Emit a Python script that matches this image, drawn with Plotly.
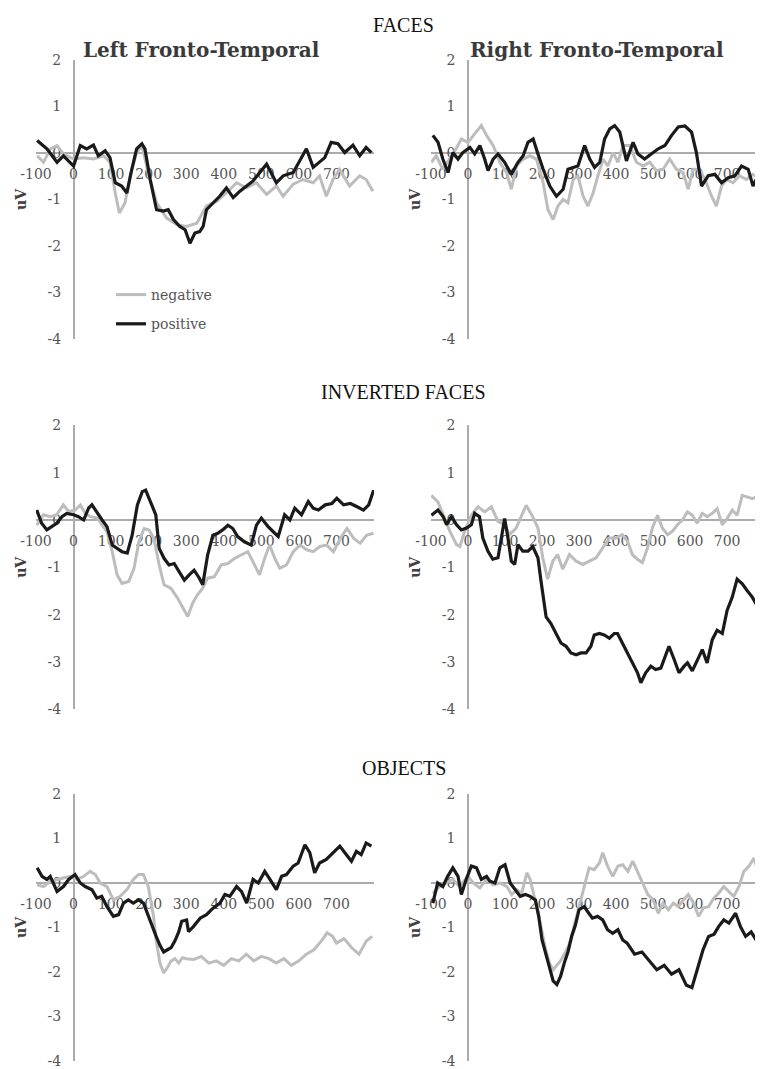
import plotly.graph_objects as go

# ---------------- DATA (ms, uV) ----------------
TICK_X = [-100, 0, 100, 200, 300, 400, 500, 600, 700]
TICK_X_TEXT = ["-100", "0", "100", "200", "300", "400", "500", "600", "700"]
TICK_Y = [2, 1, 0, -1, -2, -3, -4]
TICK_Y_TEXT = ["2", "1", "0", "-1", "-2", "-3", "-4"]
SECTIONS = ["FACES", "INVERTED FACES", "OBJECTS"]
REGIONS = ["Left Fronto-Temporal", "Right Fronto-Temporal"]
SERIES = ["negative", "positive"]

# FACES, left
fl_neg_t = [-97,-80,-62,-44,-27,0,27,53,80,97,111,122,137,151,168,182,199,221,248,275,301,328,354,381,407,434,460,487,514,540,558,585,611,638,655,673,691,708,735,762,779,797]
fl_neg_v = [-0.06,-0.2,0.09,0.16,-0.02,-0.13,-0.1,-0.13,-0.06,-0.2,-0.86,-1.29,-1.07,-0.49,0.01,0.16,-0.42,-1.07,-1.4,-1.54,-1.58,-1.51,-1.14,-1.04,-0.86,-0.64,-0.75,-0.64,-0.89,-0.71,-0.93,-0.67,-0.57,-0.64,-0.49,-0.93,-0.57,-0.35,-0.71,-0.49,-0.57,-0.82]
fl_pos_t = [-97,-71,-44,-27,0,18,35,53,66,84,97,111,128,142,155,168,182,190,204,221,239,252,266,283,297,310,323,336,345,354,372,389,407,425,443,460,478,496,514,540,558,585,602,620,638,655,669,686,704,722,744,762,779,793]
fl_pos_v = [0.27,0.09,-0.2,-0.06,-0.28,0.16,0.09,0.17,-0.06,0.05,-0.1,-0.64,-0.71,-0.86,-0.35,0.09,0.2,0.09,-0.57,-1.22,-1.25,-1.22,-1.43,-1.58,-1.65,-1.94,-1.72,-1.69,-1.58,-1.22,-1.07,-0.93,-0.75,-0.96,-0.82,-0.71,-0.6,-0.42,-0.24,-0.64,-0.49,-0.42,-0.17,0.09,-0.31,-0.2,-0.1,0.23,0.2,0.01,0.17,-0.06,0.12,0.01]

# FACES, right
fr_neg_t = [-99,-86,-68,-50,-32,-18,0,18,36,50,68,86,104,117,131,149,167,185,203,216,230,243,257,270,284,297,311,324,338,351,365,378,392,405,419,437,455,473,491,509,527,545,563,581,595,608,626,644,658,671,685,698,716,734,752,770,788]
fr_neg_v = [-0.2,-0.06,-0.35,-0.13,0.09,0.3,0.23,0.41,0.59,0.38,0.16,-0.2,-0.42,-0.78,-0.28,-0.13,-0.06,-0.13,-0.64,-1.22,-1.43,-1.14,-1.0,-1.07,-0.57,-0.49,-0.93,-1.14,-0.86,-0.49,-0.13,-0.28,0.01,-0.2,0.16,0.16,-0.2,-0.28,-0.2,-0.38,-0.35,-0.13,-0.35,-0.42,-0.78,-0.35,-0.35,-0.64,-0.93,-1.14,-0.71,-0.57,-0.64,-0.49,-0.57,-0.46,-0.57]
fr_pos_t = [-95,-81,-68,-54,-41,-27,-14,5,18,32,45,54,68,81,99,117,135,149,162,176,189,203,221,239,257,270,284,297,315,329,342,356,369,383,396,410,428,446,459,477,495,514,532,550,568,586,604,617,631,649,667,685,703,721,739,757,770,788]
fr_pos_v = [0.38,0.23,-0.13,-0.42,0.01,-0.13,0.01,0.12,-0.02,0.16,-0.13,-0.38,-0.13,-0.02,-0.2,-0.46,-0.2,-0.06,0.23,0.3,-0.02,-0.35,-0.71,-0.93,-0.78,-0.35,-0.31,-0.28,0.16,-0.13,-0.31,-0.2,0.3,0.52,0.59,0.45,-0.17,0.23,-0.02,-0.13,-0.02,0.09,0.16,0.38,0.56,0.58,0.45,0.01,-0.71,-0.49,-0.46,-0.64,-0.53,-0.49,-0.28,-0.35,-0.71,-0.42]

# INVERTED FACES, left
il_neg_t = [-98,-80,-62,-45,-27,-13,4,18,31,45,63,76,89,103,116,129,147,161,174,188,201,214,228,241,259,277,295,304,317,330,344,357,375,393,411,429,446,464,482,495,509,522,536,549,567,585,603,621,638,656,674,692,710,728,746,763,781,799]
il_neg_v = [-0.11,0.11,0.07,0.11,0.32,0.18,0.21,0.32,0.14,0.07,0.04,-0.11,-0.25,-0.67,-1.16,-1.34,-1.3,-1.02,-0.46,-0.18,-0.21,-0.39,-0.95,-1.37,-1.44,-1.65,-1.9,-2.04,-1.76,-1.58,-1.44,-1.23,-1.2,-0.95,-0.92,-0.81,-0.74,-0.67,-0.95,-1.16,-0.81,-0.53,-0.81,-1.02,-0.95,-0.67,-0.53,-0.63,-0.67,-0.56,-0.53,-0.67,-0.39,-0.18,-0.39,-0.49,-0.32,-0.28]
il_pos_t = [-98,-85,-71,-58,-45,-31,-18,0,13,27,40,49,63,76,89,103,116,129,143,156,170,183,192,205,219,228,241,254,268,281,295,308,321,335,344,357,371,384,397,411,424,437,455,473,487,500,518,536,545,562,576,589,607,625,638,652,670,688,701,719,737,755,772,786,799]
il_pos_v = [0.21,-0.07,-0.21,-0.14,-0.07,0.07,0.14,0.11,0.07,0.0,0.25,0.32,0.14,0.0,-0.14,-0.53,-0.6,-0.67,-0.7,-0.32,0.32,0.6,0.63,0.39,0.11,-0.6,-0.81,-0.95,-0.92,-1.09,-1.27,-1.16,-1.06,-1.23,-1.37,-0.74,-0.32,-0.28,-0.21,-0.11,-0.18,-0.35,-0.46,-0.53,-0.11,0.04,-0.14,-0.28,-0.35,0.11,0.0,0.25,0.11,0.39,0.25,0.21,0.32,0.35,0.46,0.32,0.35,0.28,0.21,0.32,0.63]

# INVERTED FACES, right
ir_neg_t = [-99,-81,-63,-49,-31,-22,-9,9,27,45,63,81,99,112,130,144,157,175,189,202,215,229,242,256,274,292,310,328,346,364,382,400,417,431,444,458,471,485,498,512,525,539,552,566,579,593,606,619,633,646,660,673,687,700,714,727,741,754,768,781,794]
ir_neg_v = [0.52,0.38,0.03,-0.24,-0.52,-0.56,-0.24,0.1,0.28,0.17,0.28,-0.03,-0.1,-0.31,-0.17,0.1,0.31,0.07,-0.17,-0.8,-1.25,-0.87,-0.73,-1.04,-0.73,-0.87,-0.94,-0.87,-0.8,-0.59,-0.38,-0.38,-0.31,-0.45,-0.73,-0.83,-0.9,-0.59,-0.17,0.1,-0.17,-0.31,-0.24,-0.1,0.0,0.17,0.1,-0.07,0.14,0.07,0.14,0.24,-0.1,0.03,0.21,0.1,0.52,0.49,0.45,0.49,0.45]
ir_pos_t = [-99,-81,-67,-58,-45,-31,-18,-4,9,18,31,40,54,67,81,90,99,108,117,126,135,148,162,175,189,197,211,224,238,251,265,278,292,305,319,332,341,355,368,382,395,404,417,431,444,458,467,480,494,507,521,534,543,557,570,584,593,606,619,633,646,660,673,687,700,714,727,741,754,768,781,794]
ir_pos_v = [0.1,0.21,0.07,-0.1,0.07,-0.1,-0.21,-0.17,-0.1,0.14,0.07,-0.38,-0.66,-0.83,-0.8,-0.38,0.03,-0.38,-0.87,-0.94,-0.52,-0.66,-0.66,-0.56,-0.8,-1.28,-2.05,-2.19,-2.4,-2.6,-2.67,-2.81,-2.85,-2.81,-2.81,-2.67,-2.43,-2.4,-2.43,-2.5,-2.4,-2.4,-2.6,-2.81,-3.02,-3.23,-3.44,-3.23,-3.09,-3.16,-3.13,-2.88,-2.67,-2.95,-3.23,-3.09,-3.02,-3.19,-2.98,-2.74,-3.02,-2.53,-2.33,-2.4,-1.91,-1.63,-1.25,-1.35,-1.49,-1.63,-1.81,-1.81]

# OBJECTS, left
ol_neg_t = [-97,-80,-62,-44,-27,-9,9,27,44,58,71,89,106,124,142,159,173,186,199,213,220,230,240,250,260,270,280,290,300,320,340,360,380,400,420,440,460,480,500,520,540,560,580,600,620,640,660,675,690,700,720,740,760,780,795]
ol_neg_v = [-0.04,-0.08,0.04,0.08,0.11,0.15,0.08,0.15,0.26,0.19,0.0,-0.08,-0.38,-0.3,-0.15,0.08,0.19,0.19,-0.08,-0.75,-1.3,-1.8,-2.02,-1.9,-1.75,-1.7,-1.8,-1.68,-1.7,-1.72,-1.65,-1.8,-1.75,-1.85,-1.7,-1.75,-1.6,-1.75,-1.65,-1.7,-1.8,-1.7,-1.85,-1.75,-1.6,-1.5,-1.3,-1.12,-1.2,-1.35,-1.25,-1.45,-1.6,-1.3,-1.2]
ol_pos_t = [-97,-84,-71,-62,-44,-27,-13,4,18,31,49,62,75,89,106,120,133,146,159,173,186,199,213,220,230,240,250,260,270,280,288,301,306,319,337,354,372,390,403,416,434,447,461,478,492,509,523,540,554,567,585,598,616,629,642,655,673,691,709,726,740,753,766,779,793]
ol_pos_v = [0.34,0.15,0.08,0.15,-0.19,-0.08,0.08,0.19,0.0,-0.08,-0.15,-0.34,-0.3,-0.53,-0.75,-0.71,-0.45,-0.38,-0.45,-0.38,-0.45,-0.75,-1.05,-1.2,-1.4,-1.55,-1.5,-1.45,-1.3,-1.1,-0.86,-0.83,-1.09,-0.98,-0.79,-0.71,-0.56,-0.45,-0.26,-0.3,-0.08,-0.19,-0.45,0.08,0.0,0.26,0.08,-0.15,0.15,0.19,0.38,0.45,0.86,0.68,0.23,0.45,0.53,0.68,0.83,0.64,0.49,0.71,0.64,0.9,0.83]

# OBJECTS, right
or_neg_t = [-95,-77,-59,-41,-23,0,14,32,50,68,86,105,118,132,145,159,168,182,190,200,210,220,230,240,250,260,270,277,295,314,327,341,355,364,377,391,405,418,432,445,459,473,486,500,514,527,541,555,568,582,595,609,623,636,650,664,677,691,705,718,732,745,759,773,782]
or_neg_v = [-0.23,-0.08,0.0,0.08,-0.08,0.15,0.0,-0.11,0.08,-0.04,0.0,-0.08,-0.26,-0.15,-0.23,0.23,0.08,-0.38,-0.7,-1.1,-1.5,-1.8,-1.95,-1.85,-1.75,-1.6,-1.45,-1.28,-0.68,-0.08,0.34,0.3,0.45,0.68,0.38,0.15,0.38,0.41,0.26,0.49,0.23,0.0,-0.26,-0.38,-0.68,-0.45,-0.6,-0.45,-0.53,-0.38,-0.26,-0.45,-0.75,-0.56,-0.53,-0.34,-0.23,-0.08,-0.19,-0.3,-0.08,0.26,0.38,0.56,0.3]
or_pos_t = [-95,-82,-68,-55,-41,-27,-18,-5,9,23,36,50,59,73,86,100,114,127,141,155,168,182,191,200,210,220,230,240,250,260,270,280,290,300,314,323,336,350,364,377,391,405,418,430,450,470,490,510,530,550,570,590,605,620,635,650,665,677,691,705,723,736,750,765,780,795]
or_pos_v = [-0.45,0.0,-0.08,0.15,0.34,0.15,-0.26,0.08,0.38,0.34,0.08,0.15,0.04,0.0,0.34,0.41,0.0,-0.15,-0.3,-0.26,-0.3,-0.38,-0.75,-1.28,-1.6,-1.95,-2.2,-2.28,-2.1,-1.8,-1.55,-1.2,-0.95,-0.6,-0.53,-0.64,-0.79,-0.75,-0.83,-1.05,-1.13,-1.05,-1.28,-1.35,-1.6,-1.55,-1.75,-1.95,-1.85,-2.05,-1.95,-2.3,-2.35,-1.9,-1.5,-1.2,-1.15,-0.98,-0.83,-0.9,-0.68,-0.98,-1.2,-1.1,-1.3,-1.4]

PANELS = [
    (0, 0, fl_neg_t, fl_neg_v, fl_pos_t, fl_pos_v),
    (0, 1, fr_neg_t, fr_neg_v, fr_pos_t, fr_pos_v),
    (1, 0, il_neg_t, il_neg_v, il_pos_t, il_pos_v),
    (1, 1, ir_neg_t, ir_neg_v, ir_pos_t, ir_pos_v),
    (2, 0, ol_neg_t, ol_neg_v, ol_pos_t, ol_pos_v),
    (2, 1, or_neg_t, or_neg_v, or_pos_t, or_pos_v),
]

# ---------------- LAYOUT (pixels of the 763x1069 page) ----------------
PAGE_W, PAGE_H = 763, 1069
BODY = 8                      # default page margin around the plot div
W, H = PAGE_W - BODY, PAGE_H - BODY
ROWS = [(60, 339, 153), (425.4, 709.2, 520), (794, 1061, 883)]      # top(y=2), bottom(y=-4), zero
COLS = [(36, 374, 73.6, [-100, 800]), (431, 763, 468, [-100, 797])]  # left, right, x=0, range
SECTION_Y = [25, 392, 768]
TITLE_X = [201, 597]
TITLE_Y = 50

NEG_COLOR = "#BDBDBD"
POS_COLOR = "#1A1A1A"
AXIS_COLOR = "#ABABAB"
TICK_COLOR = "#555555"
SERIF = "DejaVu Serif"


def fx(p):
    return min(1.0, (p - BODY) / W)


def fy(p):
    return max(0.0, 1 - (p - BODY) / H)


fig = go.Figure()
layout = {}
for i, (r, c, nt, nv, pt, pv) in enumerate(PANELS, start=1):
    top, bot, zero = ROWS[r]
    left, right, x0, xr = COLS[c]
    xa, ya = f"x{i}", f"y{i}"
    fig.add_trace(go.Scatter(x=nt, y=nv, mode="lines", name=SERIES[0],
                             line=dict(color=NEG_COLOR, width=3),
                             xaxis=xa, yaxis=ya, showlegend=(i == 1),
                             legendgroup="neg"))
    fig.add_trace(go.Scatter(x=pt, y=pv, mode="lines", name=SERIES[1],
                             line=dict(color=POS_COLOR, width=3.2),
                             xaxis=xa, yaxis=ya, showlegend=(i == 1),
                             legendgroup="pos"))
    sfx = "" if i == 1 else str(i)
    layout[f"xaxis{sfx}"] = dict(
        domain=[fx(left), fx(right)], range=xr, anchor="free", position=fy(zero),
        showline=True, linecolor=AXIS_COLOR, linewidth=1.5, showgrid=False, zeroline=False,
        tickmode="array", tickvals=TICK_X, ticktext=TICK_X_TEXT, ticks="", ticklabelstandoff=8,
        tickfont=dict(family=SERIF, size=14, color=TICK_COLOR), layer="below traces",
        automargin=False,
    )
    layout[f"yaxis{sfx}"] = dict(
        domain=[fy(bot), fy(top)], range=[-4, 2], anchor="free", position=fx(x0),
        showline=True, linecolor=AXIS_COLOR, linewidth=1.5, showgrid=False, zeroline=False,
        tickmode="array", tickvals=TICK_Y, ticktext=TICK_Y_TEXT, ticks="", ticklabelstandoff=9,
        tickfont=dict(family=SERIF, size=14, color=TICK_COLOR), layer="below traces",
        automargin=False,
        title=dict(text="<b>uV</b>", standoff=17,
                   font=dict(family=SERIF, size=14, color="#404040")),
    )

annotations = []
for k, s in enumerate(SECTIONS):
    annotations.append(dict(text=s, x=fx(404), y=fy(SECTION_Y[k]), xref="paper", yref="paper",
                            showarrow=False, xanchor="center", yanchor="middle",
                            font=dict(family="Liberation Serif", size=20, color="#111111")))
for k, t in enumerate(REGIONS):
    annotations.append(dict(text=f"<b>{t}</b>", x=fx(TITLE_X[k]), y=fy(TITLE_Y), xref="paper",
                            yref="paper", showarrow=False, xanchor="center", yanchor="middle",
                            font=dict(family=SERIF, size=20, color="#3A3A3A")))

fig.update_layout(
    width=W, height=H, margin=dict(l=0, r=0, t=0, b=0, autoexpand=False),
    paper_bgcolor="white", plot_bgcolor="rgba(0,0,0,0)",
    showlegend=True,
    legend=dict(x=fx(111), y=fy(279), xanchor="left", yanchor="top",
                bgcolor="rgba(0,0,0,0)", tracegroupgap=8, itemwidth=30,
                font=dict(family=SERIF, size=14, color=TICK_COLOR)),
    annotations=annotations,
    **layout,
)

fig.write_html("out.html")
